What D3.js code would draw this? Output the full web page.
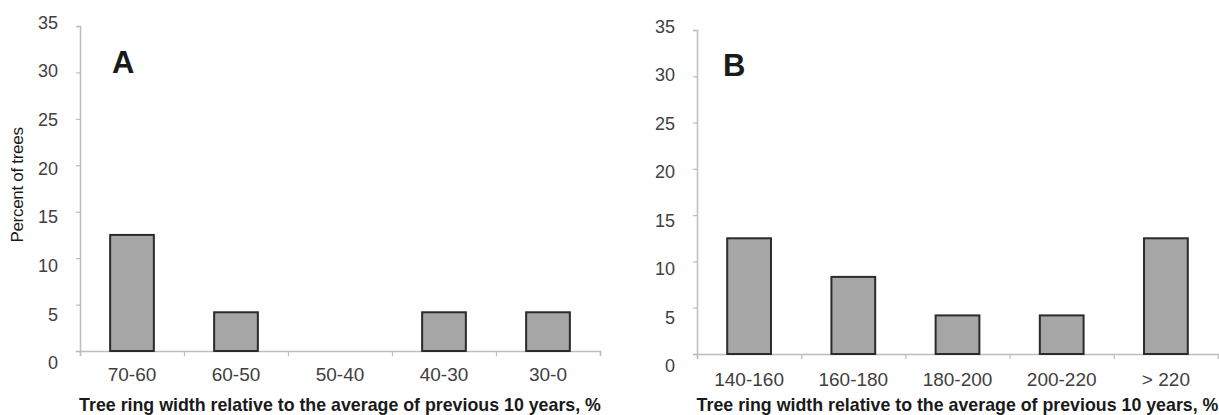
<!DOCTYPE html>
<html>
<head>
<meta charset="utf-8">
<script src="https://cdn.jsdelivr.net/npm/d3@7"></script>
<style>
  html, body { margin: 0; padding: 0; background: #fff; }
  svg { display: block; font-family: "Liberation Sans", Arial, sans-serif; }
</style>
</head>
<body>
<svg id="chart" width="1219" height="415"></svg>
<script>
// Distribution of trees by relative tree-ring width (two panels)
const categoriesA = ["70-60", "60-50", "50-40", "40-30", "30-0"];
const valuesA = [12.5, 4.17, 0, 4.17, 4.17];
const categoriesB = ["140-160", "160-180", "180-200", "200-220", "> 220"];
const valuesB = [12.5, 8.33, 4.17, 4.17, 12.5];
const yTicks = [0, 5, 10, 15, 20, 25, 30, 35];
const xTitle = "Tree ring width relative to the average of previous 10 years, %";
const yTitle = "Percent of trees";

const svg = d3.select("#chart");

function drawPanel(cfg) {
  const x = d3.scaleBand()
    .domain(cfg.categories)
    .range([cfg.x0, cfg.x1])
    .paddingInner(0.58)
    .paddingOuter(0.29);
  // band boundaries for the tick marks
  const edges = d3.scaleLinear().domain([0, cfg.categories.length]).range([cfg.x0, cfg.x1]);
  const y = d3.scaleLinear().domain([0, 35]).range([cfg.yBase, cfg.yTop]);

  const g = svg.append("g");

  // y axis
  const yAxis = g.append("g")
    .attr("transform", `translate(${cfg.x0},0)`)
    .call(d3.axisLeft(y).tickValues(yTicks).tickSize(4).tickPadding(18));
  yAxis.select(".domain").attr("stroke", "#bdbdbd").attr("stroke-width", 1.5);
  yAxis.selectAll(".tick line").attr("stroke", "#bdbdbd").attr("stroke-width", 1.2);
  yAxis.selectAll(".tick text")
    .attr("font-size", 18)
    .attr("fill", "#404040")
    .attr("font-family", "'Liberation Sans', Arial, sans-serif")
    .attr("dy", d => (-4 + (35 - d) * 0.45 + 6) + "px");

  // x axis: line with downward ticks at band edges
  const xAxis = g.append("g")
    .attr("transform", `translate(0,${cfg.yBase})`)
    .call(d3.axisBottom(edges).tickValues(d3.range(cfg.categories.length + 1)).tickSize(5).tickFormat(""));
  xAxis.select(".domain").attr("stroke", "#bdbdbd").attr("stroke-width", 1.5);
  xAxis.selectAll(".tick line").attr("stroke", "#bdbdbd").attr("stroke-width", 1.2);

  // category labels
  const catAxis = g.append("g")
    .attr("transform", `translate(0,${cfg.yBase})`)
    .call(d3.axisBottom(x).tickSize(0).tickPadding(cfg.catPad));
  catAxis.select(".domain").remove();
  catAxis.selectAll(".tick text")
    .attr("font-size", 19)
    .attr("fill", "#404040")
    .attr("font-family", "'Liberation Sans', Arial, sans-serif");

  // bars
  g.selectAll("rect.bar")
    .data(cfg.values.map((v, i) => ({ c: cfg.categories[i], v })).filter(d => d.v > 0))
    .join("rect")
    .attr("class", "bar")
    .attr("x", d => x(d.c))
    .attr("width", x.bandwidth())
    .attr("y", d => y(d.v))
    .attr("height", d => y(0) - y(d.v))
    .attr("fill", "#a6a6a6")
    .attr("stroke", "#2b2b2b")
    .attr("stroke-width", 2);

  // panel letter
  g.append("text")
    .attr("x", cfg.x0 + cfg.letterDx)
    .attr("y", cfg.letterY)
    .attr("font-size", 31)
    .attr("font-weight", "bold")
    .attr("fill", "#1a1a1a")
    .text(cfg.letter);

  // x axis title
  g.append("text")
    .attr("x", (cfg.x0 + cfg.x1) / 2)
    .attr("y", 411)
    .attr("text-anchor", "middle")
    .attr("font-size", 17.8)
    .attr("font-weight", "bold")
    .attr("fill", "#1a1a1a")
    .text(xTitle);

  return { x, y };
}

drawPanel({
  categories: categoriesA, values: valuesA,
  x0: 80, x1: 600, yBase: 351, yTop: 26,
  catPad: 17, letter: "A", letterDx: 32, letterY: 73
});

drawPanel({
  categories: categoriesB, values: valuesB,
  x0: 697, x1: 1218, yBase: 354, yTop: 30,
  catPad: 19, letter: "B", letterDx: 26, letterY: 76
});

// y axis title (left panel only)
svg.append("text")
  .attr("transform", "translate(23,185) rotate(-90)")
  .attr("text-anchor", "middle")
  .attr("font-size", 17)
  .attr("letter-spacing", "-0.3")
  .attr("fill", "#1a1a1a")
  .text(yTitle);
</script>
</body>
</html>
